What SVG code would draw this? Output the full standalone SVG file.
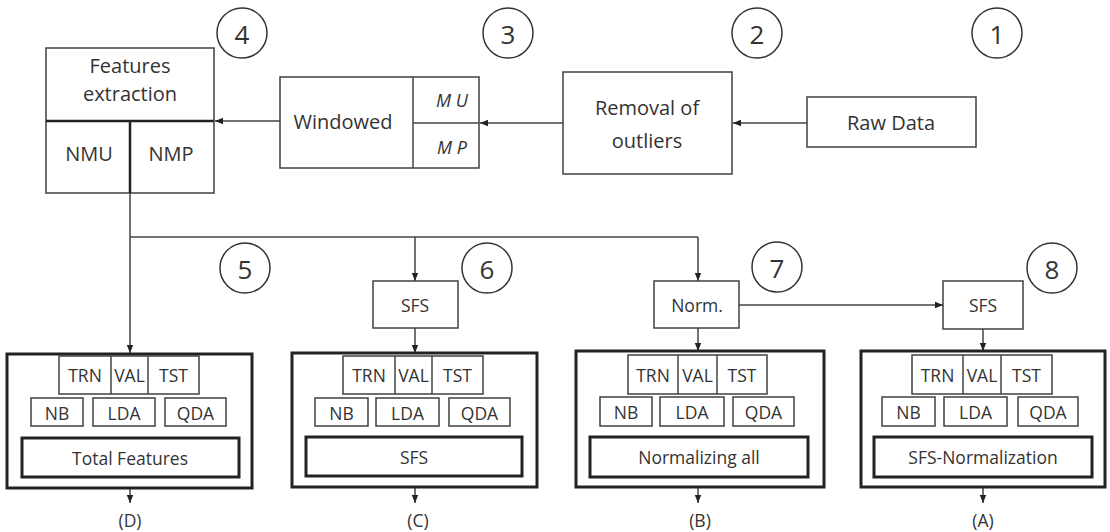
<svg xmlns="http://www.w3.org/2000/svg" width="1110" height="532" viewBox="0 0 1110 532">
<defs>
<style>
text{font-family:"Open Sans","Noto Sans",sans-serif;fill:#333;text-anchor:middle;dominant-baseline:central}
.b{fill:#fff;stroke:#404040;stroke-width:1.5}
.tk{fill:none;stroke:#222;stroke-width:3}
.c{fill:#fff;stroke:#333;stroke-width:1.5}
.num{font-size:26px}
.lg{font-size:20px}
.sm{font-size:17.5px}
.it{font-size:18px;font-style:italic}
.ln{fill:none;stroke:#444;stroke-width:1.5}
</style>
<marker id="ah" viewBox="0 0 10 10" refX="10" refY="5" markerWidth="8" markerHeight="8" markerUnits="userSpaceOnUse" orient="auto">
<path d="M0,1 L10,5 L0,9 z" fill="#222"/>
</marker>
</defs>

<g id="circles">
<g id="c1"><circle class="c" cx="997" cy="33" r="25"/><text class="num" x="997" y="34">1</text></g>
<g id="c2"><circle class="c" cx="757" cy="33" r="25"/><text class="num" x="757" y="34">2</text></g>
<g id="c3"><circle class="c" cx="508" cy="33" r="25"/><text class="num" x="508" y="34">3</text></g>
<g id="c4"><circle class="c" cx="242" cy="33" r="25"/><text class="num" x="242" y="34">4</text></g>
<g id="c5"><circle class="c" cx="245" cy="268" r="25"/><text class="num" x="245" y="269">5</text></g>
<g id="c6"><circle class="c" cx="487" cy="268" r="25"/><text class="num" x="487" y="269">6</text></g>
<g id="c7"><circle class="c" cx="777" cy="267" r="25"/><text class="num" x="777" y="268">7</text></g>
<g id="c8"><circle class="c" cx="1052" cy="268" r="25"/><text class="num" x="1052" y="269">8</text></g>
</g>

<g id="connectors">
<line class="ln" x1="807" y1="123" x2="733" y2="123" marker-end="url(#ah)"/>
<line class="ln" x1="563" y1="123" x2="480" y2="123" marker-end="url(#ah)"/>
<line class="ln" x1="280" y1="121" x2="215" y2="121" marker-end="url(#ah)"/>
<line class="ln" x1="130" y1="193" x2="130" y2="237"/>
<line class="ln" x1="130" y1="237" x2="698" y2="237"/>
<line class="ln" x1="130" y1="237" x2="130" y2="353" marker-end="url(#ah)"/>
<line class="ln" x1="415" y1="237" x2="415" y2="281" marker-end="url(#ah)"/>
<line class="ln" x1="698" y1="237" x2="698" y2="281" marker-end="url(#ah)"/>
<line class="ln" x1="415" y1="328" x2="415" y2="353" marker-end="url(#ah)"/>
<line class="ln" x1="698" y1="328" x2="698" y2="351" marker-end="url(#ah)"/>
<line class="ln" x1="739" y1="305" x2="943" y2="305" marker-end="url(#ah)"/>
<line class="ln" x1="983" y1="329" x2="983" y2="351" marker-end="url(#ah)"/>
<line class="ln" x1="130" y1="488" x2="130" y2="503" marker-end="url(#ah)"/>
<line class="ln" x1="415" y1="488" x2="415" y2="503" marker-end="url(#ah)"/>
<line class="ln" x1="698" y1="488" x2="698" y2="503" marker-end="url(#ah)"/>
<line class="ln" x1="983" y1="488" x2="983" y2="503" marker-end="url(#ah)"/>
</g>

<g id="raw">
<rect class="b" x="807" y="97" width="169" height="50"/>
<text class="lg" x="891" y="122">Raw Data</text>
</g>

<g id="removal">
<rect class="b" x="563" y="72" width="169" height="102"/>
<text class="lg" x="647" y="107">Removal of</text>
<text class="lg" x="647" y="140">outliers</text>
</g>

<g id="windowed">
<rect class="b" x="280" y="77" width="199" height="91"/>
<line class="ln" x1="413" y1="77" x2="413" y2="168"/>
<line class="ln" x1="413" y1="123" x2="479" y2="123"/>
<text class="lg" x="343" y="121">Windowed</text>
<text class="it" x="452" y="100">M U</text>
<text class="it" x="452" y="147">M P</text>
</g>

<g id="features">
<rect class="b" x="46" y="48" width="168" height="145"/>
<line x1="46" y1="121" x2="214" y2="121" stroke="#222" stroke-width="2.5"/>
<line x1="130" y1="121" x2="130" y2="193" stroke="#222" stroke-width="2.5"/>
<text class="lg" x="130" y="65">Features</text>
<text class="lg" x="130" y="93">extraction</text>
<text class="lg" x="89" y="153">NMU</text>
<text class="lg" x="171" y="153">NMP</text>
</g>

<g id="sfs6">
<rect class="b" x="373" y="281" width="85" height="47"/>
<text class="sm" x="415" y="305">SFS</text>
</g>
<g id="norm7">
<rect class="b" x="654" y="281" width="85" height="47"/>
<text class="sm" x="697" y="305">Norm.</text>
</g>
<g id="sfs8">
<rect class="b" x="943" y="281" width="80" height="48"/>
<text class="sm" x="983" y="305">SFS</text>
</g>

<g id="panelD">
<rect class="tk" x="7" y="354" width="245" height="134"/>
<rect class="b" x="59" y="356" width="140" height="38"/>
<line class="ln" x1="111" y1="356" x2="111" y2="394"/>
<line class="ln" x1="148" y1="356" x2="148" y2="394"/>
<text class="sm" x="85" y="375">TRN</text><text class="sm" x="129.5" y="375">VAL</text><text class="sm" x="173.5" y="375">TST</text>
<rect class="b" x="31" y="398" width="52" height="28"/><text class="sm" x="57" y="413">NB</text>
<rect class="b" x="93" y="398" width="62" height="28"/><text class="sm" x="124" y="413">LDA</text>
<rect class="b" x="165" y="398" width="61" height="28"/><text class="sm" x="195.5" y="413">QDA</text>
<rect class="tk" x="22" y="438" width="217" height="39"/>
<text class="sm" x="130" y="458">Total Features</text>
<text class="sm" x="130" y="520">(D)</text>
</g>

<g id="panelC">
<rect class="tk" x="292" y="353" width="245" height="134"/>
<rect class="b" x="343" y="356" width="140" height="38"/>
<line class="ln" x1="395" y1="356" x2="395" y2="394"/>
<line class="ln" x1="432" y1="356" x2="432" y2="394"/>
<text class="sm" x="369" y="375">TRN</text><text class="sm" x="413.5" y="375">VAL</text><text class="sm" x="457.5" y="375">TST</text>
<rect class="b" x="315" y="398" width="53" height="28"/><text class="sm" x="341.5" y="413">NB</text>
<rect class="b" x="376" y="398" width="63" height="28"/><text class="sm" x="407.5" y="413">LDA</text>
<rect class="b" x="449" y="398" width="61" height="28"/><text class="sm" x="479.5" y="413">QDA</text>
<rect class="tk" x="306" y="437" width="216" height="39"/>
<text class="sm" x="414" y="457">SFS</text>
<text class="sm" x="418" y="520">(C)</text>
</g>

<g id="panelB">
<rect class="tk" x="576" y="351" width="248" height="136"/>
<rect class="b" x="628" y="355" width="139" height="39"/>
<line class="ln" x1="678" y1="355" x2="678" y2="394"/>
<line class="ln" x1="717" y1="355" x2="717" y2="394"/>
<text class="sm" x="653" y="375">TRN</text><text class="sm" x="697.5" y="375">VAL</text><text class="sm" x="742" y="375">TST</text>
<rect class="b" x="600" y="397" width="52" height="29"/><text class="sm" x="626" y="412">NB</text>
<rect class="b" x="660" y="397" width="64" height="29"/><text class="sm" x="692" y="412">LDA</text>
<rect class="b" x="733" y="397" width="61" height="29"/><text class="sm" x="763.5" y="412">QDA</text>
<rect class="tk" x="590" y="437" width="218" height="40"/>
<text class="sm" x="699" y="457">Normalizing all</text>
<text class="sm" x="700" y="520">(B)</text>
</g>

<g id="panelA">
<rect class="tk" x="861" y="351" width="244" height="136"/>
<rect class="b" x="912" y="355" width="140" height="39"/>
<line class="ln" x1="963" y1="355" x2="963" y2="394"/>
<line class="ln" x1="1001" y1="355" x2="1001" y2="394"/>
<text class="sm" x="937.5" y="375">TRN</text><text class="sm" x="982" y="375">VAL</text><text class="sm" x="1026.5" y="375">TST</text>
<rect class="b" x="882" y="397" width="53" height="29"/><text class="sm" x="908.5" y="412">NB</text>
<rect class="b" x="944" y="397" width="63" height="29"/><text class="sm" x="975.5" y="412">LDA</text>
<rect class="b" x="1018" y="397" width="60" height="29"/><text class="sm" x="1048" y="412">QDA</text>
<rect class="tk" x="874" y="437" width="218" height="40"/>
<text class="sm" x="983" y="457">SFS-Normalization</text>
<text class="sm" x="983" y="520">(A)</text>
</g>
</svg>
